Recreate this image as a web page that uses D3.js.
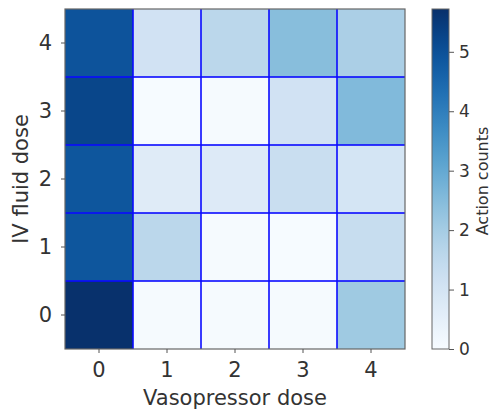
<!DOCTYPE html>
<html>
<head>
<meta charset="utf-8">
<script src="https://cdn.jsdelivr.net/npm/d3@7"></script>
<style>
  body { margin: 0; background: #fff; }
  text { font-family: "DejaVu Sans", sans-serif; fill: #333; }
</style>
</head>
<body>
<div id="chart"></div>
<script>
// categories on both axes
var vasoDoses = [0, 1, 2, 3, 4];
var fluidDoses = [0, 1, 2, 3, 4];

// action counts (log scale), one row per IV fluid dose, columns = vasopressor dose
var row0 = [5.7, 0.05, 0.05, 0.05, 2.1];
var row1 = [4.9, 1.6, 0.05, 0.02, 1.35];
var row2 = [4.9, 0.7, 0.75, 1.3, 1.0];
var row3 = [5.25, 0.02, 0.05, 1.1, 2.55];
var row4 = [4.95, 1.1, 1.6, 2.45, 1.9];
var rows = [row0, row1, row2, row3, row4];

var cbTicks = [0, 1, 2, 3, 4, 5];
var cbMax = 5.72;

var W = 491, H = 413;
var svg = d3.select("#chart").append("svg")
    .attr("width", W)
    .attr("height", H);

var x = d3.scaleBand().domain(vasoDoses).range([65, 405]);
var y = d3.scaleBand().domain(fluidDoses.slice().reverse()).range([9, 349]);
var color = d3.scaleSequential(d3.interpolateBlues).domain([0, cbMax]);

// flatten to cells
var cells = [];
rows.forEach(function (r, i) {
    r.forEach(function (v, j) {
        cells.push({ fluid: fluidDoses[i], vaso: vasoDoses[j], v: v });
    });
});

svg.append("g").selectAll("rect")
    .data(cells)
    .enter()
    .append("rect")
    .attr("x", function (d) { return x(d.vaso); })
    .attr("y", function (d) { return y(d.fluid); })
    .attr("width", x.bandwidth())
    .attr("height", y.bandwidth())
    .attr("fill", function (d) { return color(d.v); });

// blue grid at cell boundaries
var grid = svg.append("g")
    .attr("stroke", "rgba(10,10,255,0.8)")
    .attr("stroke-width", 2);
vasoDoses.slice(1).forEach(function (d) {
    grid.append("line")
        .attr("x1", x(d)).attr("x2", x(d))
        .attr("y1", 9).attr("y2", 349);
});
fluidDoses.slice(1).forEach(function (d) {
    grid.append("line")
        .attr("x1", 65).attr("x2", 405)
        .attr("y1", y(d) + y.bandwidth()).attr("y2", y(d) + y.bandwidth());
});

// frame
svg.append("rect")
    .attr("x", 65).attr("y", 9)
    .attr("width", 340).attr("height", 340)
    .attr("fill", "none")
    .attr("stroke", "#666")
    .attr("stroke-width", 1.2);

// axes
var xAxis = svg.append("g")
    .attr("transform", "translate(0,349)")
    .call(d3.axisBottom(x).tickSize(4).tickPadding(9));
var yAxis = svg.append("g")
    .attr("transform", "translate(65,0)")
    .call(d3.axisLeft(y).tickSize(4).tickPadding(9));
[xAxis, yAxis].forEach(function (a) {
    a.select(".domain").remove();
    a.selectAll("line").attr("stroke", "#555");
    a.selectAll("text")
        .attr("font-size", 21)
        .attr("font-family", "DejaVu Sans, sans-serif")
        .attr("fill", "#333");
});

svg.append("text")
    .attr("x", 235).attr("y", 405)
    .attr("text-anchor", "middle")
    .attr("font-size", 21)
    .text("Vasopressor dose");

svg.append("text")
    .attr("transform", "translate(28,179) rotate(-90)")
    .attr("text-anchor", "middle")
    .attr("font-size", 21)
    .text("IV fluid dose");

// colorbar
var cb = d3.scaleLinear().domain([0, cbMax]).range([349, 9]);
var grad = svg.append("defs").append("linearGradient")
    .attr("id", "cbgrad")
    .attr("x1", 0).attr("y1", 1).attr("x2", 0).attr("y2", 0);
d3.range(0, 1.0001, 0.05).forEach(function (t) {
    grad.append("stop")
        .attr("offset", t)
        .attr("stop-color", color(t * cbMax));
});
svg.append("rect")
    .attr("x", 432).attr("y", 9)
    .attr("width", 17).attr("height", 340)
    .attr("fill", "url(#cbgrad)")
    .attr("stroke", "#666")
    .attr("stroke-width", 1);

var cbAxis = svg.append("g")
    .attr("transform", "translate(449,0)")
    .call(d3.axisRight(cb).tickValues(cbTicks).tickFormat(d3.format("d")).tickSize(5).tickPadding(5));
cbAxis.select(".domain").remove();
cbAxis.selectAll("line").attr("stroke", "#555");
cbAxis.selectAll("text")
    .attr("font-size", 17)
    .attr("font-family", "DejaVu Sans, sans-serif")
    .attr("fill", "#333");

svg.append("text")
    .attr("transform", "translate(488,181) rotate(-90)")
    .attr("text-anchor", "middle")
    .attr("font-size", 16)
    .text("Action counts");
</script>
</body>
</html>
